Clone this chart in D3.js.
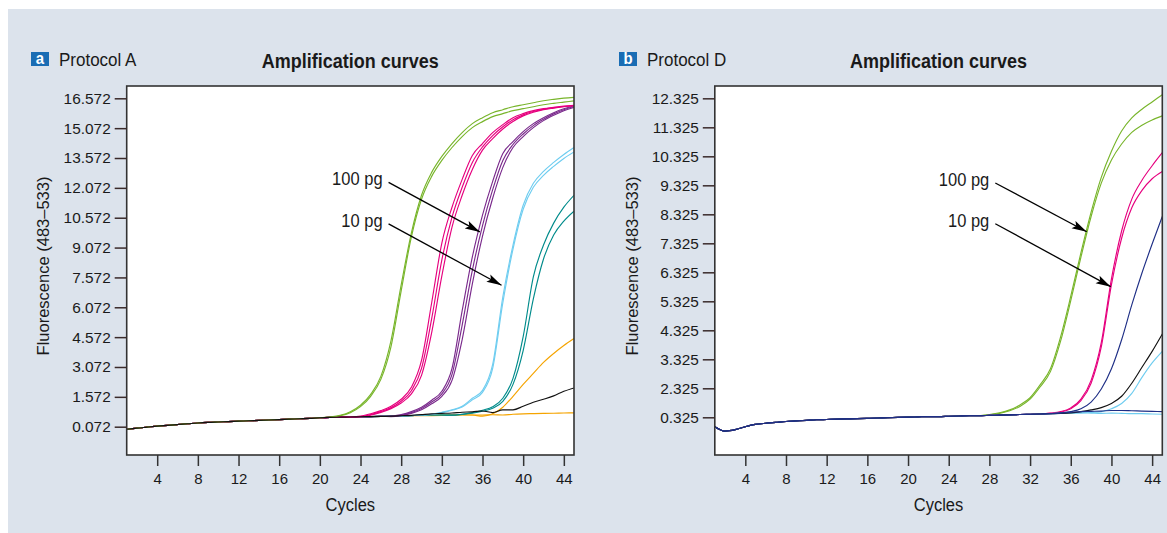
<!DOCTYPE html>
<html>
<head>
<meta charset="utf-8">
<script src="https://cdn.jsdelivr.net/npm/d3@7"></script>
<style>
  html, body { margin: 0; padding: 0; background: #ffffff; }
  svg { display: block; }
  text { font-family: "Liberation Sans", Arial, Helvetica, sans-serif; fill: #1a1a1a; }
</style>
</head>
<body>
<svg id="chart" width="1167" height="533"></svg>
<script>
// ---------------- DATA ----------------
const cycles = d3.range(1, 46);               // 1..45
const xTicks = [4, 8, 12, 16, 20, 24, 28, 32, 36, 40, 44];

// Panel a (Protocol A)
const yTicksA = [0.072, 1.572, 3.072, 4.572, 6.072, 7.572, 9.072, 10.572, 12.072, 13.572, 15.072, 16.572];
const yTickLabelsA = ["0.072", "1.572", "3.072", "4.572", "6.072", "7.572", "9.072", "10.572", "12.072", "13.572", "15.072", "16.572"];

const baselineA = [-0.06, 0.0, 0.05, 0.1, 0.14, 0.18, 0.22, 0.26, 0.29, 0.31, 0.33, 0.35, 0.37, 0.39, 0.41,
  0.43, 0.45, 0.47, 0.49, 0.52, 0.54, 0.55, 0.56, 0.57, 0.58, 0.59, 0.6, 0.61, 0.63, 0.65,
  0.66, 0.66, 0.67, 0.67, 0.68, 0.69, 0.69, 0.7, 0.71, 0.72, 0.73, 0.74, 0.75, 0.76, 0.77];

const greenA1 = [0.56, 0.64, 0.82, 1.15, 1.7, 2.6, 4.4, 7.2, 9.8, 11.7, 12.85, 13.65, 14.3, 14.85, 15.3, 15.6, 15.85, 16.0, 16.15, 16.25, 16.35, 16.45, 16.52, 16.58, 16.62];
const greenA2 = [0.55, 0.62, 0.78, 1.08, 1.6, 2.45, 4.1, 6.9, 9.6, 11.5, 12.65, 13.45, 14.1, 14.65, 15.1, 15.4, 15.65, 15.8, 15.95, 16.05, 16.15, 16.25, 16.32, 16.38, 16.44];
const pinkA1 = [0.6, 0.72, 0.88, 1.1, 1.45, 2.05, 3.4, 6.3, 9.3, 11.1, 12.5, 13.7, 14.3, 14.85, 15.25, 15.6, 15.8, 15.95, 16.05, 16.12, 16.18, 16.22];
const pinkA2 = [0.58, 0.68, 0.83, 1.03, 1.35, 1.88, 3.0, 5.5, 8.45, 10.6, 12.1, 13.35, 14.13, 14.7, 15.14, 15.5, 15.74, 15.91, 16.02, 16.1, 16.16, 16.21];
const pinkA3 = [0.57, 0.65, 0.79, 0.98, 1.26, 1.72, 2.65, 4.8, 7.65, 10.1, 11.7, 13.0, 13.97, 14.55, 15.03, 15.41, 15.69, 15.87, 16.0, 16.08, 16.15, 16.2];
const purpleA1 = [0.6, 0.68, 0.83, 1.05, 1.4, 1.85, 3.0, 5.9, 8.6, 10.7, 12.4, 13.8, 14.4, 14.9, 15.3, 15.6, 15.85, 16.05, 16.2];
const purpleA2 = [0.59, 0.65, 0.78, 0.99, 1.31, 1.72, 2.7, 5.18, 7.93, 10.18, 11.98, 13.45, 14.25, 14.78, 15.2, 15.52, 15.79, 16.0, 16.16];
const purpleA3 = [0.58, 0.63, 0.74, 0.92, 1.22, 1.6, 2.4, 4.45, 7.25, 9.65, 11.55, 13.1, 14.1, 14.65, 15.1, 15.45, 15.72, 15.95, 16.12];
const lightBlueA1 = [0.66, 0.7, 0.8, 0.92, 1.1, 1.5, 1.9, 3.2, 6.6, 9.2, 11.2, 12.3, 12.9, 13.35, 13.75, 14.1];
const lightBlueA2 = [0.66, 0.69, 0.78, 0.9, 1.06, 1.42, 1.8, 3.0, 6.3, 9.0, 11.0, 12.1, 12.7, 13.15, 13.55, 13.88];
const tealA1 = [0.65, 0.7, 0.78, 0.9, 1.07, 1.5, 2.5, 4.6, 7.6, 9.2, 10.3, 11.1, 11.7];
const tealA2 = [0.65, 0.69, 0.75, 0.85, 1.0, 1.35, 2.2, 3.9, 6.5, 8.5, 9.7, 10.4, 10.9];
const orangeA1 = [0.66, 0.6, 0.72, 1.05, 1.6, 2.2, 2.75, 3.3, 3.75, 4.15, 4.5];
const orangeA2 = [0.62, 0.63, 0.64, 0.65, 0.66, 0.66, 0.66, 0.67, 0.66, 0.7, 0.72, 0.73, 0.74, 0.75, 0.76, 0.77];
const blackA = [0.62, 0.64, 0.68, 0.72, 0.74, 0.76, 0.8, 0.82, 0.86, 0.78, 0.92, 0.92, 1.1, 1.3, 1.45, 1.62, 1.85, 2.02];

// Panel b (Protocol D)
const yTicksB = [1.325, 2.325, 3.325, 4.325, 5.325, 6.325, 7.325, 8.325, 9.325, 10.325, 11.325, 12.325];
const yTickLabelsB = ["0.325", "2.325", "3.325", "4.325", "5.325", "6.325", "7.325", "8.325", "9.325", "10.325", "11.325", "12.325"];

const baselineB = [1.0, 0.85, 0.9, 1.0, 1.08, 1.12, 1.15, 1.18, 1.2, 1.22, 1.24, 1.25, 1.26, 1.27, 1.28,
  1.29, 1.3, 1.31, 1.32, 1.33, 1.34, 1.35, 1.35, 1.36, 1.37, 1.38, 1.38, 1.39, 1.4, 1.41,
  1.42, 1.43, 1.44, 1.45, 1.46, 1.47, 1.48, 1.48, 1.49, 1.5, 1.5, 1.51, 1.52, 1.52, 1.53];

const greenB1 = [1.42, 1.48, 1.58, 1.75, 2.0, 2.45, 3.0, 4.1, 5.5, 7.0, 8.4, 9.6, 10.5, 11.2, 11.65, 11.95, 12.2, 12.45];
const greenB2 = [1.41, 1.46, 1.55, 1.7, 1.95, 2.38, 2.9, 3.95, 5.35, 6.85, 8.25, 9.4, 10.2, 10.75, 11.15, 11.4, 11.58, 11.72];
const pinkB1 = [1.44, 1.47, 1.52, 1.65, 1.95, 2.6, 3.9, 6.1, 7.75, 8.85, 9.5, 10.0, 10.45];
const pinkB2 = [1.44, 1.46, 1.5, 1.62, 1.9, 2.5, 3.75, 5.9, 7.5, 8.55, 9.15, 9.55, 9.8];
const navyB1 = [1.47, 1.52, 1.62, 1.85, 2.3, 3.0, 4.0, 5.2, 6.3, 7.3, 8.25];
const navyB2 = [1.48, 1.5, 1.52, 1.53, 1.54, 1.56, 1.56, 1.55, 1.54, 1.53, 1.52];
const blackB = [1.48, 1.52, 1.58, 1.66, 1.8, 2.05, 2.5, 3.05, 3.6, 4.2];
const lightBlueB1 = [1.49, 1.52, 1.62, 1.8, 2.15, 2.7, 3.2, 3.6];
const lightBlueB2 = [1.47, 1.46, 1.47, 1.46, 1.45, 1.45, 1.44, 1.43];

// series: colour, first cycle of own values, values from that cycle on (earlier cycles = shared baseline)
const seriesA = [
  { color: "#f5a400", from: 30, values: orangeA2 },
  { color: "#f5a400", from: 35, values: orangeA1 },
  { color: "#008b8b", from: 33, values: tealA2 },
  { color: "#008b8b", from: 33, values: tealA1 },
  { color: "#6fcdf0", from: 30, values: lightBlueA2 },
  { color: "#6fcdf0", from: 30, values: lightBlueA1 },
  { color: "#7a2a8c", from: 27, values: purpleA3 },
  { color: "#7a2a8c", from: 27, values: purpleA2 },
  { color: "#7a2a8c", from: 27, values: purpleA1 },
  { color: "#e6007e", from: 24, values: pinkA3 },
  { color: "#e6007e", from: 24, values: pinkA2 },
  { color: "#e6007e", from: 24, values: pinkA1 },
  { color: "#78b52b", from: 21, values: greenA2 },
  { color: "#78b52b", from: 21, values: greenA1 },
  { color: "#111111", from: 28, values: blackA }
];
const seriesB = [
  { color: "#78b52b", from: 28, values: greenB2 },
  { color: "#78b52b", from: 28, values: greenB1 },
  { color: "#e6007e", from: 33, values: pinkB2 },
  { color: "#e6007e", from: 33, values: pinkB1 },
  { color: "#6fcdf0", from: 38, values: lightBlueB2 },
  { color: "#6fcdf0", from: 38, values: lightBlueB1 },
  { color: "#111111", from: 36, values: blackB },
  { color: "#1f2f86", from: 35, values: navyB1 },
  { color: "#1f2f86", from: 35, values: navyB2 }
];

const annotA = [
  { label: "100 pg", tx: 26.17, ty: 12.5, ax: 35.74, ay: 9.86 },
  { label: "10 pg", tx: 26.17, ty: 10.41, ax: 37.87, ay: 7.18 }
];
const annotB = [
  { label: "100 pg", tx: 27.99, ty: 9.51, ax: 37.57, ay: 7.725 },
  { label: "10 pg", tx: 27.99, ty: 8.105, ax: 39.93, ay: 5.83 }
];

const panels = [
  { badge: "a", protocol: "Protocol A", title: "Amplification curves",
    left: 126.7, top: 86, width: 447.3, height: 369,
    yDomain: [-1.35, 17.19], yTicks: yTicksA, yLabels: yTickLabelsA,
    baseline: baselineA, series: seriesA, annot: annotA, badgeX: 31, ylabelX: 43 },
  { badge: "b", protocol: "Protocol D", title: "Amplification curves",
    left: 714.8, top: 86, width: 447.5, height: 369,
    yDomain: [0.025, 12.75], yTicks: yTicksB, yLabels: yTickLabelsB,
    baseline: baselineB, series: seriesB, annot: annotB, badgeX: 619, ylabelX: 632 }
];

// ---------------- DRAW ----------------
const svg = d3.select("#chart");
svg.append("rect").attr("x", 8).attr("y", 9).attr("width", 1159).attr("height", 524).attr("fill", "#dce3ec");

const defs = svg.append("defs");
defs.append("marker")
  .attr("id", "arrow").attr("markerUnits", "userSpaceOnUse")
  .attr("markerWidth", 16).attr("markerHeight", 10)
  .attr("viewBox", "0 0 16 10").attr("refX", 15).attr("refY", 5)
  .attr("orient", "auto")
  .append("path").attr("d", "M0,0.8 L15,5 L0,9.2 L3,5 Z").attr("fill", "#000");

// text helper: slightly taller glyphs to mimic the condensed face of the original
function label(g, x, y, str, size, sy, opts = {}) {
  const t = g.append("text")
    .attr("transform", `translate(${x},${y}) scale(1,${sy})`)
    .attr("font-size", size)
    .attr("text-anchor", opts.anchor || "start")
    .text(str);
  if (opts.bold) t.attr("font-weight", "bold");
  if (opts.fill) t.style("fill", opts.fill);
  return t;
}

panels.forEach((p, pi) => {
  const x = d3.scaleLinear().domain([1, 45]).range([p.left, p.left + p.width]);
  const y = d3.scaleLinear().domain(p.yDomain).range([p.top + p.height, p.top]);
  const g = svg.append("g");

  // header
  g.append("rect").attr("x", p.badgeX).attr("y", 52).attr("width", 18).attr("height", 14).attr("fill", "#1a6db4");
  label(g, p.badgeX + 9, 64, p.badge, 15, 1.05, { anchor: "middle", bold: true, fill: "#fff" });
  label(g, p.badgeX + 28, 66, p.protocol, 17, 1.06);
  label(g, p.left + p.width / 2, 67.5, p.title, 18, 1.12, { anchor: "middle", bold: true });

  // plot area
  g.append("rect").attr("x", p.left).attr("y", p.top).attr("width", p.width).attr("height", p.height)
    .attr("fill", "#fff");

  const clipId = "clip" + pi;
  defs.append("clipPath").attr("id", clipId).append("rect")
    .attr("x", p.left).attr("y", p.top).attr("width", p.width).attr("height", p.height);

  const line = d3.line().x((d, i) => x(cycles[i])).y(d => y(d)).curve(d3.curveMonotoneX);
  const lines = g.append("g").attr("clip-path", `url(#${clipId})`);
  p.series.forEach(s => {
    const vals = p.baseline.slice(0, s.from - 1).concat(s.values);
    lines.append("path").datum(vals).attr("d", line)
      .attr("fill", "none").attr("stroke", s.color).attr("stroke-width", 1.15);
  });

  g.append("rect").attr("x", p.left).attr("y", p.top).attr("width", p.width).attr("height", p.height)
    .attr("fill", "none").attr("stroke", "#333").attr("stroke-width", 1.6);

  // axes
  const yAxis = d3.axisLeft(y).tickValues(p.yTicks).tickFormat((d, i) => p.yLabels[i])
    .tickSize(12).tickPadding(4);
  const ya = g.append("g").attr("transform", `translate(${p.left},0)`).call(yAxis);
  ya.select(".domain").remove();
  ya.selectAll(".tick line").attr("stroke", "#3a2a2a").attr("stroke-width", 1.5);
  ya.selectAll(".tick text").attr("font-size", 15.4).attr("font-family", null).style("fill", "#1a1a1a");

  const xAxis = d3.axisBottom(x).tickValues(xTicks).tickSize(11).tickPadding(7);
  const xa = g.append("g").attr("transform", `translate(0,${p.top + p.height})`).call(xAxis);
  xa.select(".domain").remove();
  xa.selectAll(".tick line").attr("stroke", "#333").attr("stroke-width", 1.5);
  xa.selectAll(".tick text").attr("font-size", 15).attr("font-family", null).style("fill", "#1a1a1a");

  label(g, p.left + p.width / 2, 511, "Cycles", 16.5, 1.07, { anchor: "middle" });
  g.append("text").attr("transform", `translate(${p.ylabelX},266) rotate(-90)`)
    .attr("text-anchor", "middle").attr("dominant-baseline", "central")
    .attr("font-size", 16.5).text("Fluorescence (483–533)");

  // annotations
  p.annot.forEach(a => {
    label(g, x(a.tx), y(a.ty) + 6, a.label, 16.5, 1.06, { anchor: "end" });
    g.append("line").attr("x1", x(a.tx) + 6).attr("y1", y(a.ty) + 3)
      .attr("x2", x(a.ax)).attr("y2", y(a.ay))
      .attr("stroke", "#000").attr("stroke-width", 1.3).attr("marker-end", "url(#arrow)");
  });
});
</script>
</body>
</html>
